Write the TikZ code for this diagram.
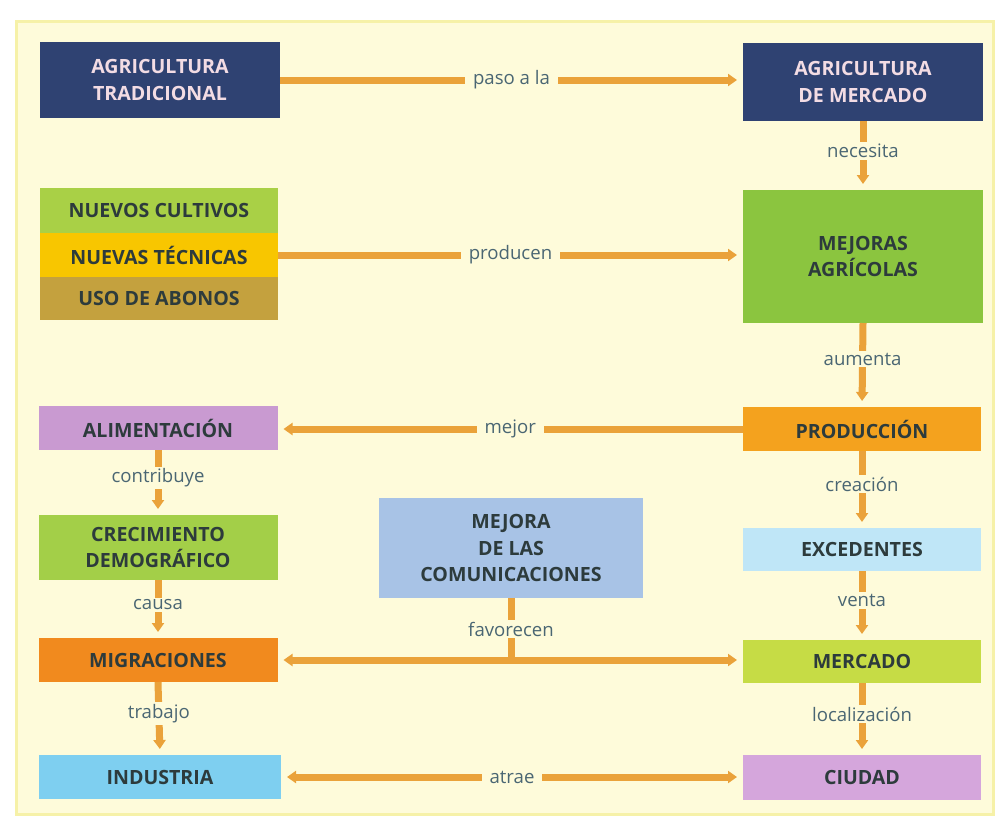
\documentclass[tikz,border=0pt]{standalone}
\usepackage{fontspec}
\setmainfont{Open Sans}
\usepackage{xcolor}
\usepackage{tikz}
\usetikzlibrary{arrows.meta}
\definecolor{fondo}{HTML}{FEFBDA}
\definecolor{borde}{HTML}{F6F1A8}
\definecolor{flecha}{HTML}{EAA23A}
\definecolor{marino}{HTML}{2F4272}
\definecolor{rosado}{HTML}{F3DCE4}
\definecolor{oscuro}{HTML}{2D3B3C}
\definecolor{gris}{HTML}{4A6673}
\definecolor{verdeA}{HTML}{A9D046}
\definecolor{amarillo}{HTML}{F8C600}
\definecolor{oliva}{HTML}{C4A13E}
\definecolor{verdeB}{HTML}{8BC53F}
\definecolor{naranjaA}{HTML}{F4A21E}
\definecolor{violetaA}{HTML}{C99AD1}
\definecolor{verdeC}{HTML}{A3CF48}
\definecolor{azulA}{HTML}{A8C3E6}
\definecolor{celesteA}{HTML}{BFE6F7}
\definecolor{naranjaB}{HTML}{F18A1E}
\definecolor{verdeD}{HTML}{C6DC45}
\definecolor{celesteB}{HTML}{7ECFF0}
\definecolor{violetaB}{HTML}{D5A6DC}
\tikzset{
  caja/.style={inner sep=0pt, outer sep=0pt, align=center, text=oscuro,
    font=\fontsize{9.8}{13.3}\selectfont\bfseries},
  enlace/.style={draw=flecha, line width=3.5pt, -{Triangle[length=4.5pt,width=6pt]}, shorten >=3pt},
  doble/.style={enlace, {Triangle[length=4.5pt,width=6pt]}-{Triangle[length=4.5pt,width=6pt]}, shorten <=3pt},
  palabra/.style={fill=fondo, text=gris, inner xsep=4pt, inner ysep=1pt,
    font=\fontsize{9.3}{10}\selectfont}
}
\begin{document}
\begin{tikzpicture}[x=0.5pt,y=-0.5pt]
\useasboundingbox (0,0) rectangle (995,821);
\fill[white] (0,0) rectangle (995,821);
\filldraw[fill=fondo, draw=borde, line width=1.5pt] (16,21) rectangle (993,814);
%
\node[caja, fill=marino, text=rosado, minimum width=120pt, minimum height=38pt] (1) at (160,80) {AGRICULTURA\\TRADICIONAL};
\node[caja, fill=marino, text=rosado, minimum width=120pt, minimum height=39pt] (2) at (863,82) {AGRICULTURA\\DE MERCADO};
\node[caja, fill=verdeA, minimum width=119pt, minimum height=22.5pt] (3a) at (159,210.5) {NUEVOS CULTIVOS};
\node[caja, fill=amarillo, minimum width=119pt, minimum height=22pt] (3) at (159,255) {NUEVAS TÉCNICAS};
\node[caja, fill=oliva, minimum width=119pt, minimum height=21.5pt] (3c) at (159,298.5) {USO DE ABONOS};
\node[caja, fill=verdeB, minimum width=120pt, minimum height=66.5pt] (4) at (863,256.5) {MEJORAS\\AGRÍCOLAS};
\node[caja, fill=naranjaA, minimum width=119pt, minimum height=22pt] (5) at (862,429) {PRODUCCIÓN};
\node[caja, fill=violetaA, minimum width=119.5pt, minimum height=22pt] (6) at (158,428) {ALIMENTACIÓN};
\node[caja, fill=verdeC, minimum width=119.5pt, minimum height=32.5pt] (7) at (158,547.5) {CRECIMIENTO\\DEMOGRÁFICO};
\node[caja, fill=azulA, minimum width=132pt, minimum height=50pt] (8) at (511,548) {MEJORA\\DE LAS\\COMUNICACIONES};
\node[caja, fill=celesteA, minimum width=119pt, minimum height=21.5pt] (9) at (862,549.5) {EXCEDENTES};
\node[caja, fill=naranjaB, minimum width=119.5pt, minimum height=22pt] (10) at (158,660) {MIGRACIONES};
\node[caja, fill=verdeD, minimum width=119pt, minimum height=21.5pt] (11) at (862,661.5) {MERCADO};
\node[caja, fill=celesteB, minimum width=121pt, minimum height=22pt] (12) at (160,777) {INDUSTRIA};
\node[caja, fill=violetaB, minimum width=119pt, minimum height=22.5pt] (13) at (862,777.5) {CIUDAD};
%
\draw[enlace] (1.east) -- (1.east -| 2.west) node[palabra, midway] {paso a la};
\draw[enlace] (3.east) -- (3.east -| 4.west) node[palabra, midway] {producen};
\draw[enlace] (5.west) -- (5.west -| 6.east) node[palabra, midway] {mejor};
%
\foreach \Source/\Target/\Texto in {%
	2/4/necesita,
	4/5/aumenta,
	5/9/creación,
	9/11/venta,
	11/13/localización,
	6/7/contribuye,
	7/10/causa,
	10/12/trabajo%
    }
\draw[enlace] (\Source.south) -- (\Target.north) node[palabra, pos=0.43] {\Texto};
%
\draw[doble] (10.east) -- (10.east -| 11.west);
\draw[doble] (12.east) -- (12.east -| 13.west) node[palabra, midway] {atrae};
\draw[draw=flecha, line width=3.5pt] (8.south) -- (8.south |- 10.east) node[palabra, midway] {favorecen};
\end{tikzpicture}
\end{document}
